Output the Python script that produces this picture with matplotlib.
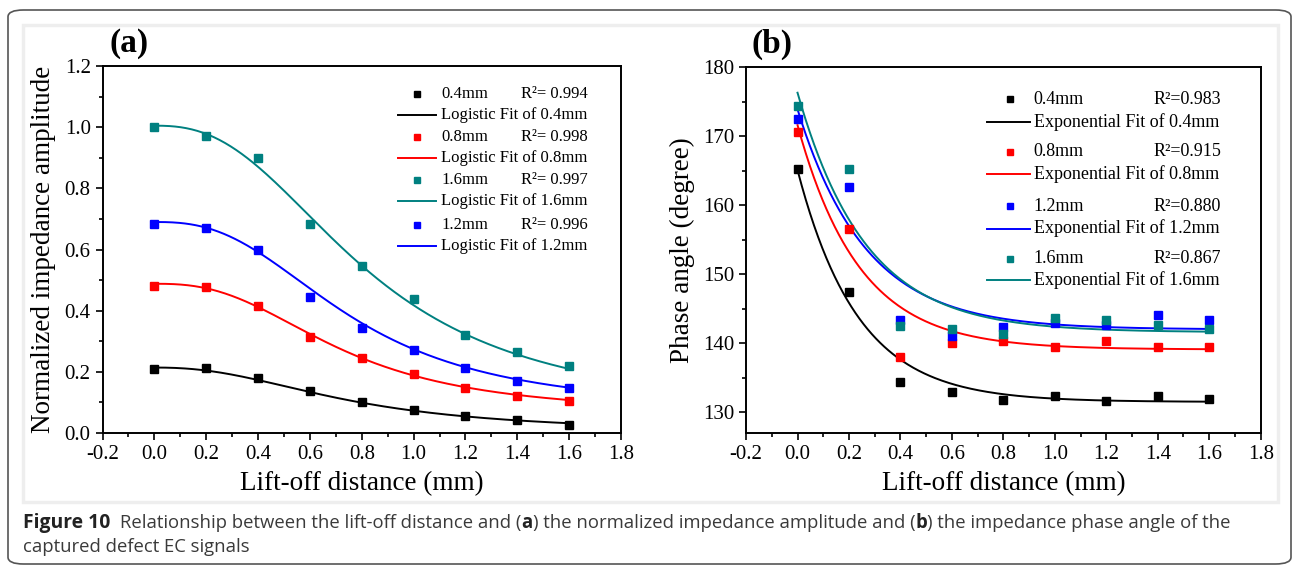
import numpy as np
import matplotlib.pyplot as plt
from matplotlib.patches import FancyBboxPatch, Rectangle
from matplotlib.ticker import MultipleLocator

plt.rcParams["font.family"] = ["Liberation Serif", "DejaVu Serif"]
plt.rcParams["axes.unicode_minus"] = False

lift_off = [0.0, 0.2, 0.4, 0.6, 0.8, 1.0, 1.2, 1.4, 1.6]
series_names = ["0.4mm", "0.8mm", "1.6mm", "1.2mm"]
series_colors = ["#000000", "#ff0000", "#008080", "#0000ff"]

# (a) normalized impedance amplitude
amp_04 = [0.209, 0.212, 0.180, 0.138, 0.100, 0.075, 0.056, 0.042, 0.027]
amp_08 = [0.482, 0.476, 0.415, 0.313, 0.246, 0.193, 0.147, 0.120, 0.104]
amp_16 = [1.000, 0.972, 0.900, 0.684, 0.547, 0.438, 0.322, 0.264, 0.219]
amp_12 = [0.684, 0.669, 0.598, 0.444, 0.344, 0.273, 0.211, 0.170, 0.148]
amp_r2 = ["0.994", "0.998", "0.997", "0.996"]
# logistic fit parameters (A1, A2, x0, p)
amp_fit_04 = [0.214, 0.0, 0.75, 2.3]
amp_fit_08 = [0.488, 0.06, 0.72, 2.6]
amp_fit_16 = [1.005, 0.06, 0.82, 2.5]
amp_fit_12 = [0.690, 0.07, 0.76, 2.6]

# (b) phase angle, legend order 0.4, 0.8, 1.2, 1.6
phase_04 = [165.2, 147.4, 134.4, 133.0, 131.8, 132.3, 131.6, 132.3, 131.9]
phase_08 = [170.6, 156.5, 138.0, 140.1, 140.3, 139.4, 140.4, 139.5, 139.5]
phase_12 = [172.5, 162.6, 143.3, 141.1, 142.4, 142.9, 142.6, 144.1, 143.4]
phase_16 = [174.4, 165.3, 142.5, 142.1, 141.3, 143.6, 143.3, 142.7, 142.0]
phase_names = ["0.4mm", "0.8mm", "1.2mm", "1.6mm"]
phase_colors = ["#000000", "#ff0000", "#0000ff", "#008080"]
phase_r2 = ["0.983", "0.915", "0.880", "0.867"]
# exponential decay fit parameters (y0, A, t)
phase_fit_04 = [131.5, 33.6, 0.235]
phase_fit_08 = [139.1, 32.5, 0.24]
phase_fit_12 = [142.0, 31.9, 0.265]
phase_fit_16 = [141.6, 34.7, 0.265]

# caption pieces: (text, bold)
caption_line1 = [("Relationship between the lift-off distance and (", False), ("a", True),
                 (") the normalized impedance amplitude and (", False), ("b", True),
                 (") the impedance phase angle of the", False)]
caption_line2 = "captured defect EC signals"


def logistic(x, a1, a2, x0, p):
    return a2 + (a1 - a2) / (1 + (x / x0) ** p)


def exp_dec(x, y0, a, t):
    return y0 + a * np.exp(-x / t)


def style_axes(ax):
    for s in ax.spines.values():
        s.set_linewidth(1.4)
    ax.tick_params(which="both", direction="out", top=False, right=False,
                   labelsize=15, width=1.2)
    ax.tick_params(which="major", length=5)
    ax.tick_params(which="minor", length=3)
    ax.xaxis.set_major_locator(MultipleLocator(0.2))
    ax.xaxis.set_minor_locator(MultipleLocator(0.1))
    ax.xaxis.set_major_formatter(plt.FormatStrFormatter("%.1f"))
    ax.set_xlim(-0.2, 1.8)
    ax.set_xlabel("Lift-off distance (mm)", fontsize=19.5, labelpad=5)


def draw_legend(ax, names, colors, r2s, fit_name, rows, mx, tx, rx, lx, fs, sep):
    for name, color, r2, (yp, yl) in zip(names, colors, r2s, rows):
        ax.plot([mx], [yp], "s", color=color, ms=5, transform=ax.transAxes, clip_on=False)
        ax.text(tx, yp, name, transform=ax.transAxes, fontsize=fs, va="center")
        ax.text(rx, yp, "R²" + sep + r2, transform=ax.transAxes, fontsize=fs, va="center")
        ax.plot(lx, [yl, yl], color=color, lw=1.4, transform=ax.transAxes)
        ax.text(tx, yl, f"{fit_name} Fit of {name}", transform=ax.transAxes,
                fontsize=fs, va="center")


fig = plt.figure(figsize=(12.93, 5.68), dpi=100)

# outer rounded frame and image background, kept behind the axes
fig.patches.append(FancyBboxPatch((8 / 1293, 4 / 568), 1283 / 1293, 554 / 568,
                                  boxstyle="round,pad=0,rounding_size=0.012",
                                  transform=fig.transFigure, fill=False,
                                  edgecolor="#555555", lw=1.2, zorder=-20))
fig.patches.append(Rectangle((23 / 1293, 66 / 568), 1255 / 1293, 477 / 568,
                             transform=fig.transFigure, facecolor="white",
                             edgecolor="#eeeeee", lw=2.5, zorder=-10))

xs = np.linspace(0, 1.6, 300)

# panel (a)
ax1 = fig.add_axes([0.0793, 0.2377, 0.401, 0.646])
style_axes(ax1)
amp_data = [amp_04, amp_08, amp_16, amp_12]
amp_fits = [amp_fit_04, amp_fit_08, amp_fit_16, amp_fit_12]
for vals, fit, color in zip(amp_data, amp_fits, series_colors):
    ax1.plot(xs, logistic(xs, *fit), color=color, lw=1.4, zorder=2)
    ax1.plot(lift_off, vals, "s", color=color, ms=5.5, zorder=3)
ax1.set_ylim(0, 1.2)
ax1.yaxis.set_major_locator(MultipleLocator(0.2))
ax1.yaxis.set_minor_locator(MultipleLocator(0.1))
ax1.yaxis.set_major_formatter(plt.FormatStrFormatter("%.1f"))
ax1.set_ylabel("Normalized impedance amplitude", fontsize=19.5, labelpad=6)
draw_legend(ax1, series_names, series_colors, amp_r2, "Logistic",
            [(0.924, 0.866), (0.806, 0.749), (0.689, 0.632), (0.567, 0.510)],
            0.607, 0.653, 0.807, [0.570, 0.643], 12, "= ")
ax1.text(0.013, 1.02, "(a)", transform=ax1.transAxes, fontsize=24,
         fontweight="bold", va="bottom")

# panel (b)
ax2 = fig.add_axes([0.577, 0.2377, 0.398, 0.644])
style_axes(ax2)
phase_data = [phase_04, phase_08, phase_12, phase_16]
phase_fits = [phase_fit_04, phase_fit_08, phase_fit_12, phase_fit_16]
for vals, fit, color in zip(phase_data, phase_fits, phase_colors):
    ax2.plot(xs, exp_dec(xs, *fit), color=color, lw=1.4, zorder=2)
    ax2.plot(lift_off, vals, "s", color=color, ms=5.5, zorder=3)
ax2.set_ylim(127, 180)
ax2.yaxis.set_major_locator(MultipleLocator(10))
ax2.yaxis.set_minor_locator(MultipleLocator(5))
ax2.set_ylabel("Phase angle (degree)", fontsize=19.5, labelpad=6)
draw_legend(ax2, phase_names, phase_colors, phase_r2, "Exponential",
            [(0.912, 0.851), (0.769, 0.707), (0.620, 0.559), (0.477, 0.418)],
            0.513, 0.559, 0.792, [0.469, 0.551], 13, "=")
ax2.text(0.01, 1.02, "(b)", transform=ax2.transAxes, fontsize=24,
         fontweight="bold", va="bottom")

# caption, pieces placed one after another
cap_font = ["Open Sans", "DejaVu Sans"]
renderer = fig.canvas.get_renderer()
y1 = 1 - 528 / 568
fig.text(23 / 1293, y1, "Figure 10", fontsize=13.9, fontweight="bold",
         family=cap_font, color="#222222", va="baseline")
x_px = 120
for piece, bold in caption_line1:
    t = fig.text(x_px / 1293, y1, piece, fontsize=13.35, family=cap_font,
                 fontweight="bold" if bold else "normal",
                 color="#222222" if bold else "#3a3a3a", va="baseline")
    x_px += t.get_window_extent(renderer).width
fig.text(23 / 1293, 1 - 552 / 568, caption_line2, fontsize=13.35,
         family=cap_font, color="#3a3a3a", va="baseline")

fig.savefig("out.png", dpi=100)
